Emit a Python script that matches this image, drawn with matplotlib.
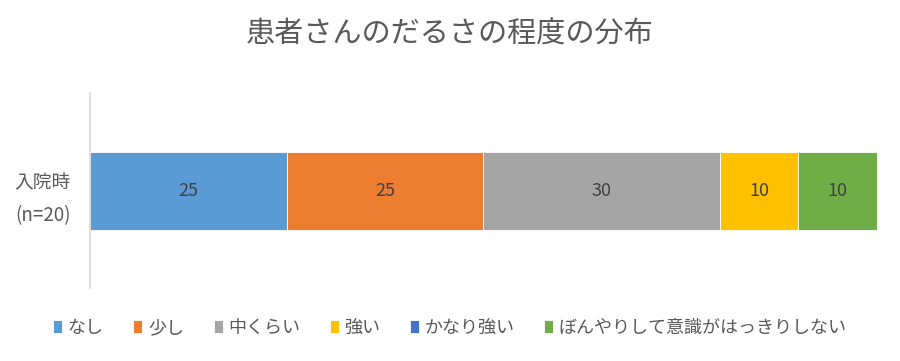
import matplotlib.pyplot as plt

plt.rcParams['font.family'] = ['Noto Sans CJK JP', 'DejaVu Sans']

category = '入院時\n(n=20)'
labels = ['なし', '少し', '中くらい', '強い', 'かなり強い', 'ぼんやりして意識がはっきりしない']
values = [25, 25, 30, 10, 0, 10]
colors = ['#5b9bd5', '#ed7d31', '#a5a5a5', '#ffc000', '#4472c4', '#70ad47']

fig = plt.figure(figsize=(9, 3.61), dpi=100)
ax = fig.add_axes([0.1, 0.202, 0.8744, 0.540])

left = 0
for lab, v, c in zip(labels, values, colors):
    ax.barh([0], [v], left=left, height=0.4, color=c, label=lab,
            edgecolor='white', linewidth=0.6)
    if v > 0:
        ax.text(left + v / 2, 0, str(v), ha='center', va='center',
                fontsize=13, color='#404040')
    left += v

ax.set_xlim(0, 100)
ax.set_ylim(-0.5, 0.5)
ax.set_xticks([])
ax.set_yticks([0])
ax.set_yticklabels([category], fontsize=13.5, color='#595959', linespacing=1.75)
ax.tick_params(axis='y', length=0, pad=14)
for s in ['top', 'right', 'bottom']:
    ax.spines[s].set_visible(False)
ax.spines['left'].set_color('#d9d9d9')
ax.spines['left'].set_linewidth(1.2)

fig.suptitle('患者さんのだるさの程度の分布', y=0.945, fontsize=21, color='#595959')

fig.legend(loc='center', bbox_to_anchor=(0.5, 0.092), ncol=6, frameon=False,
           fontsize=13, handlelength=0.5, handleheight=0.7, handletextpad=0.3,
           columnspacing=1.65, labelcolor='#595959')

fig.savefig('out.png', dpi=100)
